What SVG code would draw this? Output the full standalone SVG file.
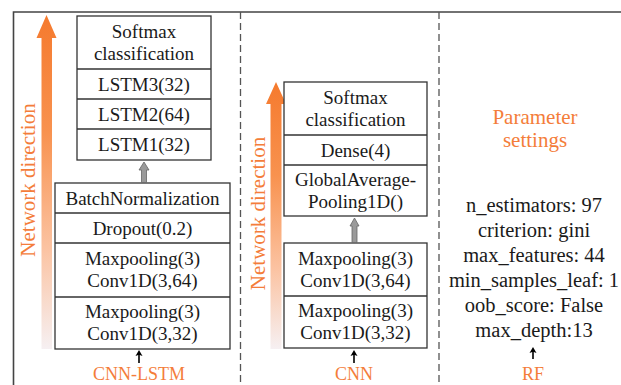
<svg xmlns="http://www.w3.org/2000/svg" width="621" height="385" viewBox="0 0 621 385">
<style>
  .box { fill: #fff; stroke: #333; stroke-width: 1.3; }
  .div { stroke: #333; stroke-width: 1.3; }
  .t { font-family: "Liberation Serif", "Times New Roman", serif; font-size: 19px; fill: #1a1a1a; text-anchor: middle; }
  .p { font-family: "Liberation Serif", "Times New Roman", serif; font-size: 20.5px; fill: #1a1a1a; text-anchor: middle; }
  .o { font-family: "Liberation Serif", "Times New Roman", serif; fill: #F47D3A; text-anchor: middle; }
  .frame { fill: none; stroke: #444; stroke-width: 1.6; }
  .dash { stroke: #555; stroke-width: 1.3; stroke-dasharray: 7 4; fill: none; }
  .garrow { fill: #9a9a9a; stroke: #666; stroke-width: 0.8; }
  .karrow { fill: #000; stroke: none; }
</style>
<defs>
  <linearGradient id="g1" gradientUnits="userSpaceOnUse" x1="0" y1="15" x2="0" y2="349">
    <stop offset="0" stop-color="#F57A2E"/>
    <stop offset="0.35" stop-color="#F8924F"/>
    <stop offset="0.7" stop-color="#FBC3A2"/>
    <stop offset="1" stop-color="#F6F0F2"/>
  </linearGradient>
  <linearGradient id="g2" gradientUnits="userSpaceOnUse" x1="0" y1="82" x2="0" y2="349">
    <stop offset="0" stop-color="#F57A2E"/>
    <stop offset="0.35" stop-color="#F8924F"/>
    <stop offset="0.7" stop-color="#FBC3A2"/>
    <stop offset="1" stop-color="#F6F0F2"/>
  </linearGradient>
</defs>
<rect width="621" height="385" fill="#fff"/>
<g id="frame">
  <path class="frame" d="M13.5,386 V12 H622"/>
  <line class="dash" x1="240.5" y1="12" x2="240.5" y2="386"/>
  <line class="dash" x1="439" y1="12" x2="439" y2="386"/>
</g>

<g id="cnnlstm-direction">
  <polygon fill="url(#g1)" points="46.5,15 56.5,38 52,38 52,349 41.5,349 41.5,38 36.5,38"/>
  <text class="o" font-size="21" transform="translate(34.5,180) rotate(-90)">Network direction</text>
</g>

<g id="cnnlstm-top">
  <rect class="box" x="77" y="16" width="134" height="144"/>
  <line class="div" x1="77" y1="69" x2="211" y2="69"/>
  <line class="div" x1="77" y1="99" x2="211" y2="99"/>
  <line class="div" x1="77" y1="129" x2="211" y2="129"/>
  <text class="t" x="144" y="38">Softmax</text>
  <text class="t" x="144" y="60">classification</text>
  <text class="t" x="144" y="90.5">LSTM3(32)</text>
  <text class="t" x="144" y="120.5">LSTM2(64)</text>
  <text class="t" x="144" y="150.5">LSTM1(32)</text>
</g>

<g id="cnnlstm-bottom">
  <rect class="box" x="55" y="183" width="175" height="166"/>
  <line class="div" x1="55" y1="213" x2="230" y2="213"/>
  <line class="div" x1="55" y1="243" x2="230" y2="243"/>
  <line class="div" x1="55" y1="297" x2="230" y2="297"/>
  <text class="t" x="142.5" y="204.5">BatchNormalization</text>
  <text class="t" x="142.5" y="234.5">Dropout(0.2)</text>
  <text class="t" x="142.5" y="265">Maxpooling(3)</text>
  <text class="t" x="142.5" y="287">Conv1D(3,64)</text>
  <text class="t" x="142.5" y="318">Maxpooling(3)</text>
  <text class="t" x="142.5" y="340">Conv1D(3,32)</text>
</g>
<text id="label-cnnlstm" class="o" font-size="18" x="139" y="380">CNN-LSTM</text>

<g id="cnn-direction">
  <polygon fill="url(#g2)" points="276,82 286,104 281.5,104 281.5,349 270.5,349 270.5,104 266,104"/>
  <text class="o" font-size="21" transform="translate(265,213.5) rotate(-90)">Network direction</text>
</g>

<g id="cnn-top">
  <rect class="box" x="284" y="82" width="143" height="134"/>
  <line class="div" x1="284" y1="135" x2="427" y2="135"/>
  <line class="div" x1="284" y1="165" x2="427" y2="165"/>
  <text class="t" x="355.5" y="103.5">Softmax</text>
  <text class="t" x="355.5" y="125.5">classification</text>
  <text class="t" x="355.5" y="156.5">Dense(4)</text>
  <text class="t" x="355.5" y="185.5">GlobalAverage-</text>
  <text class="t" x="355.5" y="207.5">Pooling1D()</text>
</g>

<g id="cnn-bottom">
  <rect class="box" x="284" y="243" width="143" height="105"/>
  <line class="div" x1="284" y1="296" x2="427" y2="296"/>
  <text class="t" x="355.5" y="264.5">Maxpooling(3)</text>
  <text class="t" x="355.5" y="286.5">Conv1D(3,64)</text>
  <text class="t" x="355.5" y="317">Maxpooling(3)</text>
  <text class="t" x="355.5" y="339">Conv1D(3,32)</text>
</g>
<text id="label-cnn" class="o" font-size="18" x="354" y="380">CNN</text>

<g id="rf-params">
  <text class="o" font-size="21" x="535" y="124">Parameter</text>
  <text class="o" font-size="21" x="535" y="147">settings</text>
  <text class="p" x="534" y="212">n_estimators: 97</text>
  <text class="p" x="534" y="237">criterion: gini</text>
  <text class="p" x="534" y="262">max_features: 44</text>
  <text class="p" x="534" y="287">min_samples_leaf: 1</text>
  <text class="p" x="534" y="312">oob_score: False</text>
  <text class="p" x="534" y="337">max_depth:13</text>
</g>
<text id="label-rf" class="o" font-size="18" x="533" y="380">RF</text>

<g id="connectors">
  <polygon class="garrow" points="144,162 149,170 146.5,170 146.5,182.5 141.5,182.5 141.5,170 139,170"/>
  <polygon class="garrow" points="354.5,218 359,226 357,226 357,242.5 352,242.5 352,226 350,226"/>
  <polygon class="karrow" points="139,350 142.5,356 139.8,355 139.8,363 138.2,363 138.2,355 135.5,356"/>
  <polygon class="karrow" points="354,350 357.5,356 354.8,355 354.8,363 353.2,363 353.2,355 350.5,356"/>
  <polygon class="karrow" points="533,347 536.5,353 533.8,352 533.8,359 532.2,359 532.2,352 529.5,353"/>
</g>
</svg>
